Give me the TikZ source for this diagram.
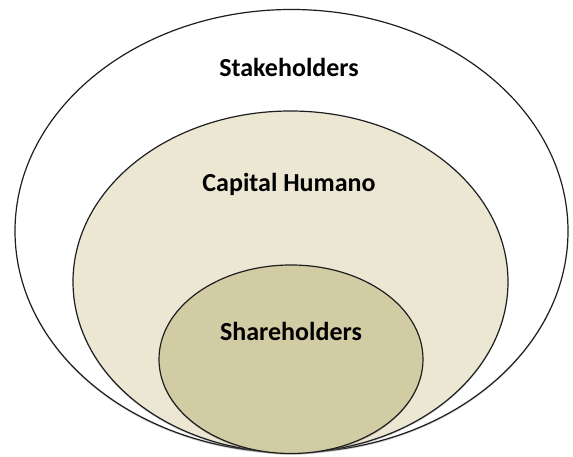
\documentclass[tikz,border=0pt]{standalone}
\usepackage{fontspec}
\setmainfont{Carlito}
\usetikzlibrary{shadows}
\definecolor{midfill}{HTML}{EBE7D3}
\definecolor{innfill}{HTML}{D2CCA5}
\definecolor{edge}{HTML}{1E1E1E}
\begin{document}
\begin{tikzpicture}[x=1pt,y=1pt,
  ring/.style={draw=edge,line width=1.2pt,drop shadow={opacity=0.35,shadow xshift=0pt,shadow yshift=-1.5pt}},
  lbl/.style={font=\fontsize{26}{30}\selectfont\bfseries,text=black}]
\useasboundingbox (0,0) rectangle (573,457);
\fill[white] (0,0) rectangle (573,457);
\path[ring,fill=white] (291.5,226) ellipse [x radius=276.5, y radius=221.5];
\path[ring,fill=midfill] (290.5,175.25) ellipse [x radius=217.5, y radius=170.75];
\path[ring,fill=innfill] (291,97.75) ellipse [x radius=132, y radius=94.25];
\node[lbl] (stake) at (289,457-67) {Stakeholders};
\node[lbl] (cap) at (289,457-184) {Capital Humano};
\node[lbl] (share) at (291,457-331) {Shareholders};
\end{tikzpicture}
\end{document}
